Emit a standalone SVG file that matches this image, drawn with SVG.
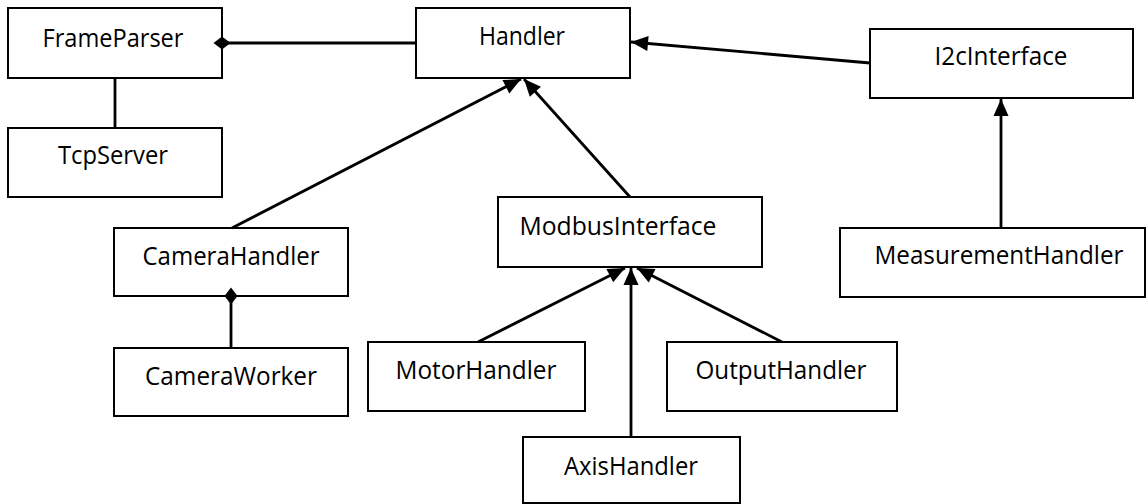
<svg xmlns="http://www.w3.org/2000/svg" width="1147" height="504" viewBox="0 0 1147 504">
  <style>
    .box { fill: #ffffff; stroke: #000000; stroke-width: 2; }
    .label { font-family: "Open Sans", "Liberation Sans", sans-serif; font-size: 25px; fill: #000000; text-anchor: middle; }
    .link { stroke: #000000; stroke-width: 2.8; fill: none; }
    .inherit { marker-end: url(#arrow); }
    .compose { marker-end: url(#diamond); }
  </style>
  <defs>
    <marker id="arrow" markerUnits="userSpaceOnUse" markerWidth="17" markerHeight="16" viewBox="0 -8 17 16" refX="17" refY="0" orient="auto" overflow="visible">
      <path d="M0,-7.5 L17,0 L0,7.5 z" fill="#000000"/>
    </marker>
    <marker id="diamond" markerUnits="userSpaceOnUse" markerWidth="17" markerHeight="13" viewBox="0 -6.5 17 13" refX="8.5" refY="0" orient="auto" overflow="visible">
      <path d="M0,0 L8.5,-6.5 L17,0 L8.5,6.5 z" fill="#000000"/>
    </marker>
  </defs>

  <rect width="1147" height="504" fill="#ffffff"/>

  <g id="FrameParser">
    <rect class="box" x="8" y="8" width="214" height="70"/>
    <text class="label" x="113" y="47" textLength="141" lengthAdjust="spacingAndGlyphs">FrameParser</text>
  </g>
  <g id="TcpServer">
    <rect class="box" x="8" y="128" width="214" height="69"/>
    <text class="label" x="113" y="164" textLength="110" lengthAdjust="spacingAndGlyphs">TcpServer</text>
  </g>
  <g id="Handler">
    <rect class="box" x="416" y="8" width="214" height="70"/>
    <text class="label" x="522" y="45" textLength="86" lengthAdjust="spacingAndGlyphs">Handler</text>
  </g>
  <g id="I2cInterface">
    <rect class="box" x="870" y="29" width="263" height="69"/>
    <text class="label" x="1001" y="65" textLength="133" lengthAdjust="spacingAndGlyphs">I2cInterface</text>
  </g>
  <g id="ModbusInterface">
    <rect class="box" x="498" y="197" width="264" height="70"/>
    <text class="label" x="618" y="235" textLength="197" lengthAdjust="spacingAndGlyphs">ModbusInterface</text>
  </g>
  <g id="CameraHandler">
    <rect class="box" x="114" y="228" width="234" height="68"/>
    <text class="label" x="231" y="265" textLength="177" lengthAdjust="spacingAndGlyphs">CameraHandler</text>
  </g>
  <g id="CameraWorker">
    <rect class="box" x="114" y="348" width="234" height="68"/>
    <text class="label" x="231" y="385" textLength="172" lengthAdjust="spacingAndGlyphs">CameraWorker</text>
  </g>
  <g id="MeasurementHandler">
    <rect class="box" x="840" y="228" width="305" height="69"/>
    <text class="label" x="999" y="264" textLength="249" lengthAdjust="spacingAndGlyphs">MeasurementHandler</text>
  </g>
  <g id="MotorHandler">
    <rect class="box" x="368" y="342" width="217" height="69"/>
    <text class="label" x="476" y="379" textLength="161" lengthAdjust="spacingAndGlyphs">MotorHandler</text>
  </g>
  <g id="OutputHandler">
    <rect class="box" x="667" y="342" width="230" height="69"/>
    <text class="label" x="781" y="379" textLength="171" lengthAdjust="spacingAndGlyphs">OutputHandler</text>
  </g>
  <g id="AxisHandler">
    <rect class="box" x="523" y="437" width="217" height="66"/>
    <text class="label" x="631" y="475" textLength="134" lengthAdjust="spacingAndGlyphs">AxisHandler</text>
  </g>

  <!-- connectors: drawn last so heads sit over box edges -->
  <g id="connectors">
    <line class="link compose" x1="416" y1="43" x2="222" y2="43"/>
    <line class="link" x1="115" y1="78" x2="115" y2="128"/>
    <line class="link inherit" x1="232" y1="228" x2="521" y2="79"/>
    <line class="link inherit" x1="630" y1="197" x2="524" y2="79"/>
    <line class="link inherit" x1="870" y1="63" x2="631" y2="42"/>
    <line class="link inherit" x1="1001" y1="228" x2="1001" y2="99"/>
    <line class="link compose" x1="231" y1="348" x2="231" y2="296"/>
    <line class="link inherit" x1="478" y1="342" x2="625" y2="268"/>
    <line class="link inherit" x1="631" y1="437" x2="631" y2="268"/>
    <line class="link inherit" x1="782" y1="342" x2="637" y2="268"/>
  </g>
</svg>
